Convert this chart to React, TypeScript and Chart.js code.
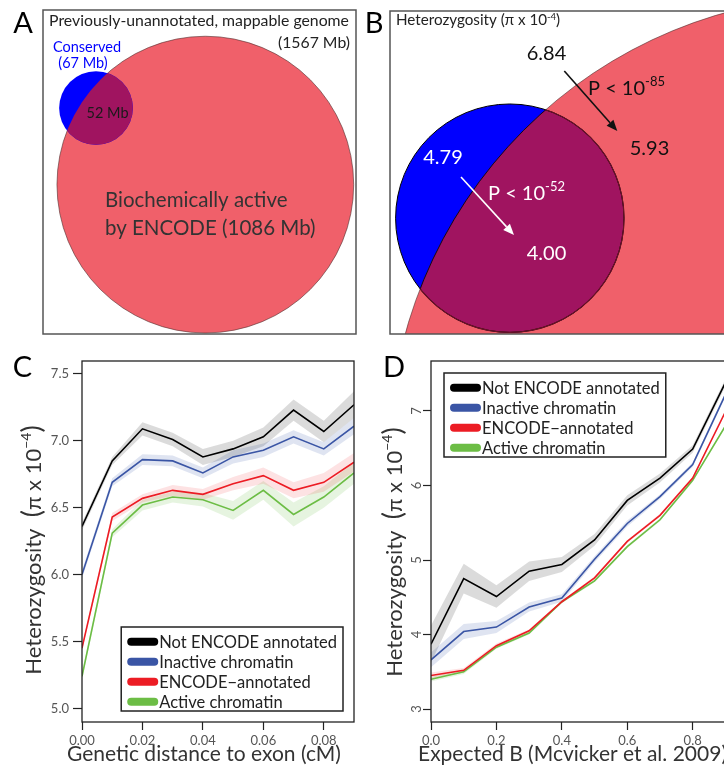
import React, { useEffect, useRef } from "react";
import { Chart, registerables } from "chart.js";

Chart.register(...registerables);

const FONT = "Lato, 'Open Sans', sans-serif";

// ---- Panel A: set sizes (Mb) ----
const genomeMb = 1567;
const setMb = [67, 1086]; // conserved, biochemically active by ENCODE
const sharedMb = 52;

// ---- Panel B: heterozygosity (pi x 10^-4) ----
const hetNotConserved = [6.84, 5.93]; // not ENCODE -> ENCODE
const hetConserved = [4.79, 4.0]; // not ENCODE -> ENCODE
const pExponents = [-85, -52];

// ---- Panel C: heterozygosity vs genetic distance to exon (cM) ----
const distC = [0, 0.01, 0.02, 0.03, 0.04, 0.05, 0.06, 0.07, 0.08, 0.09];
const notEncodeC = [6.36, 6.85, 7.09, 7.01, 6.88, 6.94, 7.03, 7.23, 7.07, 7.27];
const inactiveC = [6.0, 6.69, 6.86, 6.85, 6.76, 6.88, 6.93, 7.03, 6.94, 7.11];
const encodeC = [5.45, 6.43, 6.57, 6.63, 6.6, 6.68, 6.74, 6.63, 6.69, 6.84];
const activeC = [5.24, 6.31, 6.52, 6.58, 6.56, 6.48, 6.63, 6.45, 6.58, 6.76];
const seNotEncodeC = [0.03, 0.03, 0.05, 0.05, 0.06, 0.06, 0.07, 0.08, 0.08, 0.1];
const seInactiveC = [0.03, 0.03, 0.04, 0.04, 0.04, 0.05, 0.05, 0.05, 0.05, 0.06];
const seEncodeC = [0.02, 0.03, 0.03, 0.04, 0.04, 0.05, 0.06, 0.06, 0.07, 0.07];
const seActiveC = [0.03, 0.03, 0.04, 0.04, 0.05, 0.07, 0.07, 0.09, 0.08, 0.08];
const xTicksC = [0, 0.02, 0.04, 0.06, 0.08];
const yTicksC = [5.0, 5.5, 6.0, 6.5, 7.0, 7.5];

// ---- Panel D: heterozygosity vs expected B ----
const expB = [0, 0.1, 0.2, 0.3, 0.4, 0.5, 0.6, 0.7, 0.8, 0.9];
const notEncodeD = [3.87, 4.75, 4.51, 4.85, 4.94, 5.27, 5.8, 6.1, 6.49, 7.38];
const inactiveD = [3.66, 4.04, 4.1, 4.37, 4.49, 5.01, 5.49, 5.85, 6.28, 7.22];
const encodeD = [3.45, 3.52, 3.85, 4.05, 4.44, 4.76, 5.25, 5.6, 6.1, 6.99];
const activeD = [3.4, 3.5, 3.83, 4.02, 4.44, 4.72, 5.18, 5.54, 6.07, 6.8];
const seNotEncodeD = [0.25, 0.2, 0.15, 0.13, 0.1, 0.08, 0.07, 0.06, 0.05, 0.05];
const seInactiveD = [0.1, 0.1, 0.08, 0.06, 0.05, 0.04, 0.04, 0.03, 0.03, 0.03];
const seEncodeD = [0.04, 0.03, 0.03, 0.02, 0.02, 0.02, 0.02, 0.02, 0.02, 0.02];
const seActiveD = [0.03, 0.03, 0.02, 0.02, 0.02, 0.02, 0.02, 0.02, 0.02, 0.02];
const xTicksD = [0, 0.2, 0.4, 0.6, 0.8];
const yTicksD = [3, 4, 5, 6, 7];

const seriesNames = [
  "Not ENCODE annotated",
  "Inactive chromatin",
  "ENCODE\u2212annotated",
  "Active chromatin",
];

// styles
const lineColors = ["#000000", "#3a55a5", "#ec1c24", "#6cbd45"];
const bandColors = [
  "rgba(0,0,0,0.14)",
  "rgba(58,85,165,0.16)",
  "rgba(236,28,36,0.13)",
  "rgba(108,189,69,0.17)",
];
const BLUE = "#0000ff";
const RED = "#f0606a";
const OVERLAP = "#a01460";

// venn layout: circle centres in venn units (conserved at origin)
const vennCx = [0, 13.7];
const vennCy = [0, -9.6];

type Seg = { t: string; s: number; dy?: number };
type TextItem = {
  segs: Seg[];
  x: number;
  y: number;
  align?: "left" | "center" | "right";
  color?: string;
  rot?: boolean;
};
type Arrow = { x1: number; y1: number; x2: number; y2: number; color: string };

const plain = (t: string, s: number): Seg[] => [{ t, s }];

function drawRich(ctx: CanvasRenderingContext2D, it: TextItem) {
  ctx.save();
  ctx.fillStyle = it.color ?? "#222";
  ctx.textBaseline = "alphabetic";
  ctx.textAlign = "left";
  const widths = it.segs.map((sg) => {
    ctx.font = `${sg.s}px ${FONT}`;
    return ctx.measureText(sg.t).width;
  });
  const total = widths.reduce((a, b) => a + b, 0);
  const base = it.segs[0].s * 0.36;
  ctx.translate(it.x, it.y);
  if (it.rot) ctx.rotate(-Math.PI / 2);
  let x = it.align === "center" ? -total / 2 : it.align === "right" ? -total : 0;
  it.segs.forEach((sg, i) => {
    ctx.font = `${sg.s}px ${FONT}`;
    ctx.fillText(sg.t, x, base + (sg.dy ?? 0));
    x += widths[i];
  });
  ctx.restore();
}

function drawArrow(ctx: CanvasRenderingContext2D, a: Arrow) {
  const ang = Math.atan2(a.y2 - a.y1, a.x2 - a.x1);
  const head = 11;
  const half = 4.5;
  const bx = a.x2 - head * Math.cos(ang);
  const by = a.y2 - head * Math.sin(ang);
  ctx.save();
  ctx.strokeStyle = a.color;
  ctx.fillStyle = a.color;
  ctx.lineWidth = 1.6;
  ctx.beginPath();
  ctx.moveTo(a.x1, a.y1);
  ctx.lineTo(bx, by);
  ctx.stroke();
  ctx.beginPath();
  ctx.moveTo(a.x2, a.y2);
  ctx.lineTo(bx - half * Math.sin(ang), by + half * Math.cos(ang));
  ctx.lineTo(bx + half * Math.sin(ang), by - half * Math.cos(ang));
  ctx.closePath();
  ctx.fill();
  ctx.restore();
}

// radius of a set circle (area proportional to Mb), in pixels of the x scale
const radiusPx = (chart: any, mb: number) => {
  const s = chart.scales.x;
  return Math.abs(s.getPixelForValue(Math.sqrt(mb / Math.PI)) - s.getPixelForValue(0));
};

function circlePx(chart: any, i: number) {
  const { x, y } = chart.scales;
  return {
    cx: x.getPixelForValue(vennCx[i]),
    cy: y.getPixelForValue(vennCy[i]),
    r: radiusPx(chart, setMb[i]),
  };
}

const pointRadiusFn = (c: any) => (c.raw ? radiusPx(c.chart, c.raw.mb) : 0);

interface VennProps {
  left: number;
  top: number;
  width: number;
  height: number;
  pad: { left: number; top: number; right: number; bottom: number };
  view: { xMin: number; xMax: number; yMin: number; yMax: number };
  texts: TextItem[];
  arrows: Arrow[];
  outline: boolean;
}

const VennPanel: React.FC<VennProps> = (p) => {
  const ref = useRef<HTMLCanvasElement>(null);
  useEffect(() => {
    if (!ref.current) return;
    const vennPlugin = {
      id: "vennExtras",
      afterDatasetsDraw(chart: any) {
        const ctx = chart.ctx as CanvasRenderingContext2D;
        const a = chart.chartArea;
        const b = circlePx(chart, 0);
        const r = circlePx(chart, 1);
        ctx.save();
        ctx.beginPath();
        ctx.rect(a.left, a.top, a.right - a.left, a.bottom - a.top);
        ctx.clip();
        ctx.save();
        ctx.beginPath();
        ctx.arc(b.cx, b.cy, b.r, 0, Math.PI * 2);
        ctx.clip();
        ctx.beginPath();
        ctx.arc(r.cx, r.cy, r.r, 0, Math.PI * 2);
        ctx.fillStyle = OVERLAP;
        ctx.fill();
        if (p.outline) {
          ctx.strokeStyle = "#1a0a10";
          ctx.lineWidth = 1;
          ctx.stroke();
        }
        ctx.restore();
        if (p.outline) {
          ctx.beginPath();
          ctx.arc(b.cx, b.cy, b.r, 0, Math.PI * 2);
          ctx.strokeStyle = "#000";
          ctx.lineWidth = 1;
          ctx.stroke();
          ctx.save();
          ctx.beginPath();
          ctx.arc(r.cx, r.cy, r.r, 0, Math.PI * 2);
          ctx.clip();
          ctx.beginPath();
          ctx.arc(b.cx, b.cy, b.r, 0, Math.PI * 2);
          ctx.strokeStyle = "#6a1226";
          ctx.lineWidth = 1.2;
          ctx.stroke();
          ctx.restore();
        }
        ctx.restore();
        ctx.save();
        ctx.strokeStyle = "#555";
        ctx.lineWidth = 1.5;
        ctx.strokeRect(a.left, a.top, a.right - a.left, a.bottom - a.top);
        ctx.restore();
        p.arrows.forEach((ar) => drawArrow(ctx, ar));
        p.texts.forEach((t) => drawRich(ctx, t));
      },
    };
    const chart = new Chart(ref.current, {
      type: "scatter",
      data: {
        datasets: [
          {
            label: "Conserved",
            data: [{ x: vennCx[0], y: vennCy[0], mb: setMb[0] }] as any,
            pointBackgroundColor: BLUE,
            pointBorderWidth: 0,
            pointRadius: pointRadiusFn,
            pointHoverRadius: pointRadiusFn,
            clip: 0,
          } as any,
          {
            label: "Biochemically active by ENCODE",
            data: [{ x: vennCx[1], y: vennCy[1], mb: setMb[1] }] as any,
            pointBackgroundColor: RED,
            pointBorderColor: "rgba(80,45,45,0.6)",
            pointBorderWidth: 1,
            pointRadius: pointRadiusFn,
            pointHoverRadius: pointRadiusFn,
            clip: 0,
          } as any,
        ],
      },
      options: {
        animation: false,
        responsive: false,
        events: [],
        layout: { padding: p.pad },
        plugins: { legend: { display: false }, tooltip: { enabled: false } },
        scales: {
          x: { type: "linear", display: false, min: p.view.xMin, max: p.view.xMax },
          y: { type: "linear", display: false, min: p.view.yMin, max: p.view.yMax },
        },
      },
      plugins: [vennPlugin],
    });
    return () => chart.destroy();
  }, []);
  return (
    <canvas
      ref={ref}
      width={p.width}
      height={p.height}
      style={{ position: "absolute", left: p.left, top: p.top, width: p.width, height: p.height }}
    />
  );
};

interface LineProps {
  left: number;
  top: number;
  width: number;
  height: number;
  padTop: number;
  padRight: number;
  yAxisW: number;
  xs: number[];
  values: number[][];
  se: number[][];
  xMin: number;
  xMax: number;
  yMin: number;
  yMax: number;
  xTicks: number[];
  yTicks: number[];
  xDigits: number;
  yDigits: number;
  yTickLen: number;
  rotateYTicks: boolean;
  yTickX: number;
  legend: { corner: "br" | "tl"; dx: number; dy: number };
  texts: TextItem[];
}

const LinePanel: React.FC<LineProps> = (p) => {
  const ref = useRef<HTMLCanvasElement>(null);
  useEffect(() => {
    if (!ref.current) return;
    const datasets: any[] = [];
    p.values.forEach((vals, i) => {
      datasets.push({
        label: seriesNames[i] + " upper",
        data: p.xs.map((x, j) => ({ x, y: vals[j] + p.se[i][j] })),
        borderWidth: 0,
        pointRadius: 0,
        fill: false,
        order: 1,
      });
      datasets.push({
        label: seriesNames[i] + " lower",
        data: p.xs.map((x, j) => ({ x, y: vals[j] - p.se[i][j] })),
        borderWidth: 0,
        pointRadius: 0,
        fill: "-1",
        backgroundColor: bandColors[i],
        order: 1,
      });
    });
    p.values.forEach((vals, i) => {
      datasets.push({
        label: seriesNames[i],
        data: p.xs.map((x, j) => ({ x, y: vals[j] })),
        borderColor: lineColors[i],
        borderWidth: 1.6,
        pointRadius: 0,
        tension: 0,
        fill: false,
        order: 0,
        isLine: true,
      });
    });

    const extras = {
      id: "panelExtras",
      afterDraw(chart: any) {
        const ctx = chart.ctx as CanvasRenderingContext2D;
        const a = chart.chartArea;
        // frame
        ctx.save();
        ctx.strokeStyle = "#222";
        ctx.lineWidth = 1.3;
        ctx.strokeRect(a.left, a.top, a.right - a.left, a.bottom - a.top);
        ctx.restore();
        // rotated y tick labels
        if (p.rotateYTicks) {
          const ys = chart.scales.y;
          p.yTicks.forEach((v) =>
            drawRich(ctx, {
              segs: plain(v.toFixed(p.yDigits), 13),
              x: p.yTickX,
              y: ys.getPixelForValue(v),
              align: "center",
              color: "#555",
              rot: true,
            })
          );
        }
        // legend box
        const items = chart.data.datasets.filter((d: any) => d.isLine);
        ctx.save();
        ctx.font = `16.5px ${FONT}`;
        const textW = Math.max(...items.map((d: any) => ctx.measureText(d.label).width));
        const w = 39 + textW + 5;
        const h = 84;
        const x0 = p.legend.corner === "br" ? a.right - p.legend.dx - w : a.left + p.legend.dx;
        const y0 = p.legend.corner === "br" ? a.bottom - p.legend.dy - h : a.top + p.legend.dy;
        ctx.fillStyle = "#fff";
        ctx.fillRect(x0, y0, w, h);
        ctx.strokeStyle = "#222";
        ctx.lineWidth = 1.5;
        ctx.strokeRect(x0, y0, w, h);
        items.forEach((d: any, i: number) => {
          const cy = y0 + 14.7 + 20 * i;
          ctx.strokeStyle = d.borderColor;
          ctx.lineWidth = 8;
          ctx.lineCap = "round";
          ctx.beginPath();
          ctx.moveTo(x0 + 10, cy);
          ctx.lineTo(x0 + 33, cy);
          ctx.stroke();
          ctx.fillStyle = "#222";
          ctx.textBaseline = "middle";
          ctx.textAlign = "left";
          ctx.fillText(d.label, x0 + 38, cy + 1);
        });
        ctx.restore();
        p.texts.forEach((t) => drawRich(ctx, t));
      },
    };

    const chart = new Chart(ref.current, {
      type: "line",
      data: { datasets },
      options: {
        animation: false,
        responsive: false,
        events: [],
        layout: { padding: { left: 0, top: p.padTop, right: p.padRight, bottom: 0 } },
        plugins: { legend: { display: false }, tooltip: { enabled: false } },
        scales: {
          x: {
            type: "linear",
            min: p.xMin,
            max: p.xMax,
            afterBuildTicks: (s: any) => {
              s.ticks = p.xTicks.map((v) => ({ value: v }));
            },
            afterFit: (s: any) => {
              s.height = 45;
            },
            border: { display: false },
            grid: { drawOnChartArea: false, drawTicks: true, tickLength: 8, tickColor: "#222", tickWidth: 1.2 },
            ticks: {
              color: "#555",
              font: { family: FONT, size: 13 },
              padding: 3,
              maxRotation: 0,
              autoSkip: false,
              callback: (v: any) => Number(v).toFixed(p.xDigits),
            },
          },
          y: {
            type: "linear",
            min: p.yMin,
            max: p.yMax,
            afterBuildTicks: (s: any) => {
              s.ticks = p.yTicks.map((v) => ({ value: v }));
            },
            afterFit: (s: any) => {
              s.width = p.yAxisW;
            },
            border: { display: false },
            grid: { drawOnChartArea: false, drawTicks: true, tickLength: p.yTickLen, tickColor: "#222", tickWidth: 1.2 },
            ticks: {
              color: p.rotateYTicks ? "rgba(0,0,0,0)" : "#555",
              font: { family: FONT, size: 13 },
              padding: 4,
              autoSkip: false,
              callback: (v: any) => Number(v).toFixed(p.yDigits),
            },
          },
        },
      } as any,
      plugins: [extras],
    });
    return () => chart.destroy();
  }, []);
  return (
    <canvas
      ref={ref}
      width={p.width}
      height={p.height}
      style={{ position: "absolute", left: p.left, top: p.top, width: p.width, height: p.height }}
    />
  );
};

const yTitleSegs: Seg[] = [
  { t: "Heterozygosity  ", s: 22 },
  { t: "(", s: 27 },
  { t: "\u03c0 x 10", s: 22 },
  { t: "\u22124", s: 14, dy: -10 },
  { t: ")", s: 27 },
];

const App: React.FC = () => {
  const textsA: TextItem[] = [
    { segs: plain("A", 29), x: 23, y: 23, align: "center", color: "#000" },
    { segs: plain("Previously-unannotated, mappable genome", 15.8), x: 199, y: 20, align: "center" },
    { segs: plain(`(${genomeMb} Mb)`, 15.8), x: 350, y: 42, align: "right" },
    { segs: plain("Conserved", 14.5), x: 87, y: 47, align: "center", color: BLUE },
    { segs: plain(`(${setMb[0]} Mb)`, 14.5), x: 83, y: 63, align: "center", color: BLUE },
    { segs: plain(`${sharedMb} Mb`, 14.5), x: 107.5, y: 113, align: "center", color: "#1a1a1a" },
    { segs: plain("Biochemically active", 20.5), x: 105, y: 200, align: "left", color: "#333" },
    { segs: plain(`by ENCODE (${setMb[1]} Mb)`, 20.5), x: 105, y: 228, align: "left", color: "#333" },
  ];
  const textsB: TextItem[] = [
    { segs: plain("B", 29), x: 12, y: 23, align: "center", color: "#000" },
    {
      segs: [
        { t: "Heterozygosity (\u03c0 x 10", s: 15.2 },
        { t: "-4", s: 9.5, dy: -5 },
        { t: ")", s: 15.2 },
      ],
      x: 34,
      y: 20,
      align: "left",
    },
    { segs: plain(hetNotConserved[0].toFixed(2), 20), x: 184.5, y: 53, align: "center", color: "#111" },
    {
      segs: [
        { t: "P < 10", s: 20 },
        { t: String(pExponents[0]), s: 13, dy: -9 },
      ],
      x: 226,
      y: 88,
      align: "left",
      color: "#111",
    },
    { segs: plain(hetNotConserved[1].toFixed(2), 20), x: 287.5, y: 148, align: "center", color: "#111" },
    { segs: plain(hetConserved[0].toFixed(2), 20), x: 81, y: 157, align: "center", color: "#fff" },
    {
      segs: [
        { t: "P < 10", s: 20 },
        { t: String(pExponents[1]), s: 13, dy: -9 },
      ],
      x: 126,
      y: 193,
      align: "left",
      color: "#fff",
    },
    { segs: plain(hetConserved[1].toFixed(2), 20), x: 184.5, y: 253, align: "center", color: "#fff" },
  ];
  const arrowsB: Arrow[] = [
    { x1: 202.3, y1: 71, x2: 255.3, y2: 131, color: "#111" },
    { x1: 99, y1: 177, x2: 152, y2: 235, color: "#fff" },
  ];

  const textsC: TextItem[] = [
    { segs: plain("C", 29), x: 22.5, y: 27, align: "center", color: "#000" },
    { segs: plain("Genetic distance to exon (cM)", 21), x: 67, y: 413.7, align: "left", color: "#333" },
    { segs: yTitleSegs, x: 33.5, y: 210, align: "center", color: "#333", rot: true },
  ];
  const textsD: TextItem[] = [
    { segs: plain("D", 29), x: 24, y: 27, align: "center", color: "#000" },
    { segs: plain("Expected B (Mcvicker et al. 2009)", 21), x: 48, y: 413.7, align: "left", color: "#333" },
    { segs: yTitleSegs, x: 24, y: 212, align: "center", color: "#333", rot: true },
  ];

  return (
    <div
      style={{
        position: "absolute",
        left: 0,
        top: 0,
        width: 724,
        height: 767,
        overflow: "hidden",
        background: "#fff",
      }}
    >
      <VennPanel
        left={0}
        top={0}
        width={362}
        height={340}
        pad={{ left: 43, top: 10, right: 6, bottom: 6 }}
        view={{ xMin: -6.642, xMax: 32.58, yMin: -28.32, yMax: 12.281 }}
        texts={textsA}
        arrows={[]}
        outline={false}
      />
      <VennPanel
        left={362}
        top={0}
        width={372}
        height={340}
        pad={{ left: 28, top: 11, right: 4, bottom: 6 }}
        view={{ xMin: -4.844, xMax: 8.904, yMin: -4.683, yMax: 8.378 }}
        texts={textsB}
        arrows={arrowsB}
        outline={true}
      />
      <LinePanel
        left={0}
        top={340}
        width={362}
        height={427}
        padTop={21}
        padRight={8}
        yAxisW={82}
        xs={distC}
        values={[notEncodeC, inactiveC, encodeC, activeC]}
        se={[seNotEncodeC, seInactiveC, seEncodeC, seActiveC]}
        xMin={0}
        xMax={0.09}
        yMin={4.898}
        yMax={7.597}
        xTicks={xTicksC}
        yTicks={yTicksC}
        xDigits={2}
        yDigits={1}
        yTickLen={9}
        rotateYTicks={false}
        yTickX={0}
        legend={{ corner: "br", dx: 11, dy: 11 }}
        texts={textsC}
      />
      <LinePanel
        left={370}
        top={340}
        width={362}
        height={427}
        padTop={21}
        padRight={6.6}
        yAxisW={61}
        xs={expB}
        values={[notEncodeD, inactiveD, encodeD, activeD]}
        se={[seNotEncodeD, seInactiveD, seEncodeD, seActiveD]}
        xMin={0}
        xMax={0.9}
        yMin={2.826}
        yMax={7.671}
        xTicks={xTicksD}
        yTicks={yTicksD}
        xDigits={1}
        yDigits={0}
        yTickLen={8}
        rotateYTicks={true}
        yTickX={46.5}
        legend={{ corner: "tl", dx: 13, dy: 12 }}
        texts={textsD}
      />
    </div>
  );
};

export default App;
